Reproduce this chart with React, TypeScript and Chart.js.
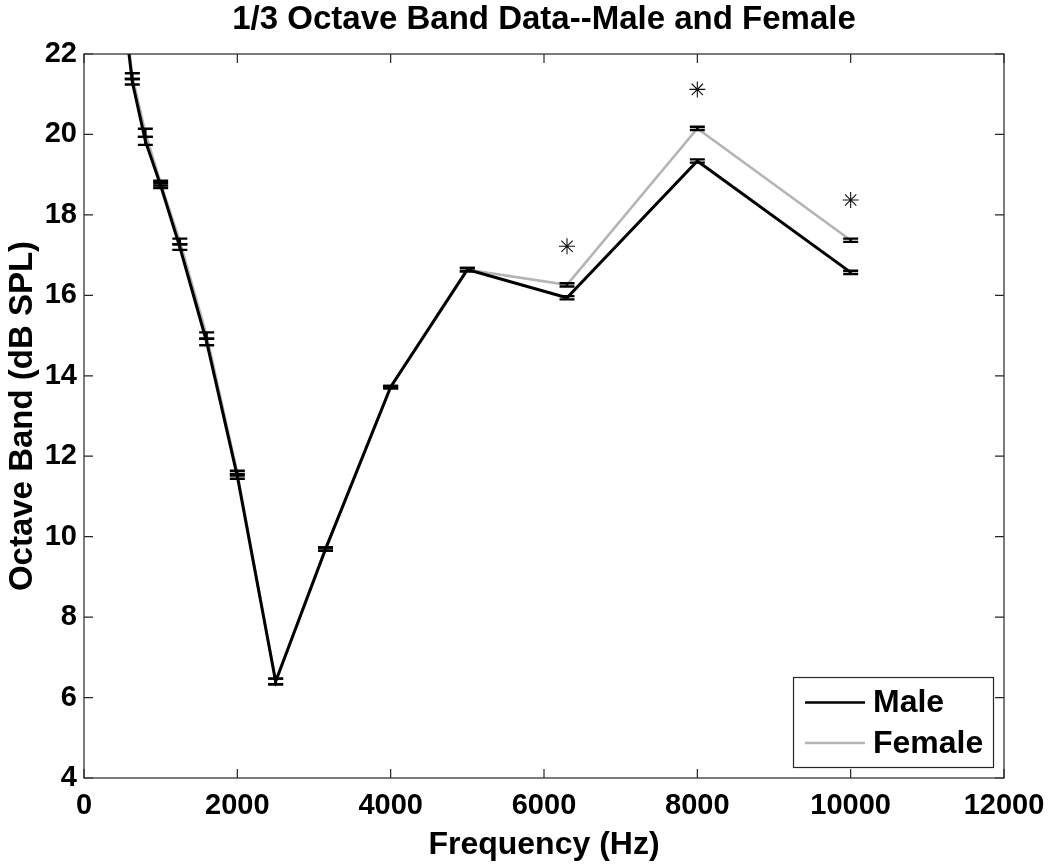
import React, { useEffect, useRef } from 'react';
import { Chart, registerables } from 'chart.js';

Chart.register(...registerables);

// ---- data ----
const frequencies = [500, 630, 800, 1000, 1250, 1600, 2000, 2500, 3150, 4000, 5000, 6300, 8000, 10000];
const maleLevels = [23.4, 21.31, 19.84, 18.73, 17.2, 14.84, 11.5, 6.4, 9.69, 13.72, 16.64, 15.94, 19.34, 16.57];
const femaleLevels = [23.5, 21.45, 20.04, 18.79, 17.34, 15.0, 11.58, 6.4, 9.69, 13.72, 16.64, 16.26, 20.15, 17.37];
const maleErrors = [0.07, 0.07, 0.1, 0.06, 0.07, 0.08, 0.06, 0.07, 0.04, 0.03, 0.04, 0.04, 0.04, 0.04];
const femaleErrors = [0.07, 0.07, 0.1, 0.06, 0.07, 0.08, 0.06, 0.07, 0.04, 0.03, 0.04, 0.04, 0.04, 0.04];
const significantFreqs = [6300, 8000, 10000];
const significantMarks = [17.22, 21.12, 18.37];
const seriesLabels = ['Male', 'Female'];
const xTickValues = [0, 2000, 4000, 6000, 8000, 10000, 12000];
const yTickValues = [4, 6, 8, 10, 12, 14, 16, 18, 20, 22];

const FONT = '"Liberation Sans", Arial, Helvetica, sans-serif';
const MALE_COLOR = '#000000';
const FEMALE_COLOR = '#b4b4b4';
const FRAME_COLOR = '#262626';

const errorBarPlugin = {
  id: 'errorBars',
  afterDatasetsDraw(chart: any) {
    const { ctx, chartArea, scales } = chart;
    const xs = scales.x;
    const ys = scales.y;
    ctx.save();
    ctx.beginPath();
    ctx.rect(chartArea.left, chartArea.top, chartArea.right - chartArea.left, chartArea.bottom - chartArea.top);
    ctx.clip();
    ctx.strokeStyle = '#000';
    ctx.lineWidth = 2.4;
    chart.data.datasets.forEach((ds: any) => {
      const errs = ds.errors;
      if (!errs) return;
      ds.data.forEach((p: any, j: number) => {
        const px = xs.getPixelForValue(p.x);
        const lo = ys.getPixelForValue(p.y - errs[j]);
        const hi = ys.getPixelForValue(p.y + errs[j]);
        ctx.beginPath();
        ctx.moveTo(px, lo);
        ctx.lineTo(px, hi);
        ctx.moveTo(px - 7.5, lo);
        ctx.lineTo(px + 7.5, lo);
        ctx.moveTo(px - 7.5, hi);
        ctx.lineTo(px + 7.5, hi);
        ctx.stroke();
      });
    });
    ctx.restore();
  },
};

const framePlugin = {
  id: 'frameAndLegend',
  afterDraw(chart: any) {
    const { ctx, chartArea, scales } = chart;
    const xs = scales.x;
    const ys = scales.y;
    const L = chartArea.left, R = chartArea.right, T = chartArea.top, B = chartArea.bottom;
    ctx.save();
    ctx.strokeStyle = FRAME_COLOR;
    ctx.lineWidth = 1.2;
    ctx.strokeRect(L, T, R - L, B - T);
    const tl = 9;
    ctx.beginPath();
    xTickValues.forEach((v) => {
      const px = xs.getPixelForValue(v);
      ctx.moveTo(px, B);
      ctx.lineTo(px, B - tl);
      ctx.moveTo(px, T);
      ctx.lineTo(px, T + tl);
    });
    yTickValues.forEach((v) => {
      const py = ys.getPixelForValue(v);
      ctx.moveTo(L, py);
      ctx.lineTo(L + tl, py);
      ctx.moveTo(R, py);
      ctx.lineTo(R - tl, py);
    });
    ctx.stroke();

    // legend
    const bx = 793.5, by = 677.5, bw = 200, bh = 90;
    ctx.fillStyle = '#ffffff';
    ctx.fillRect(bx, by, bw, bh);
    ctx.strokeStyle = FRAME_COLOR;
    ctx.lineWidth = 1.2;
    ctx.strokeRect(bx, by, bw, bh);
    const rows = [
      { label: seriesLabels[0], color: MALE_COLOR, y: 702.5, w: 2.5 },
      { label: seriesLabels[1], color: FEMALE_COLOR, y: 743, w: 2.5 },
    ];
    rows.forEach((r) => {
      ctx.beginPath();
      ctx.strokeStyle = r.color;
      ctx.lineWidth = r.w;
      ctx.moveTo(805, r.y);
      ctx.lineTo(865, r.y);
      ctx.stroke();
      ctx.fillStyle = '#000';
      ctx.font = 'bold 32px ' + FONT;
      ctx.textAlign = 'left';
      ctx.textBaseline = 'middle';
      ctx.fillText(r.label, 873, r.y + 1);
    });
    ctx.restore();
  },
};

export default function App() {
  const canvasRef = useRef<HTMLCanvasElement | null>(null);

  useEffect(() => {
    document.body.style.margin = '0';
    const canvas = canvasRef.current;
    if (!canvas) return;

    const malePts = frequencies.map((f, i) => ({ x: f, y: maleLevels[i] }));
    const femalePts = frequencies.map((f, i) => ({ x: f, y: femaleLevels[i] }));
    const starPts = significantFreqs.map((f, i) => ({ x: f, y: significantMarks[i] }));

    const chart = new Chart(canvas, {
      type: 'line',
      data: {
        datasets: [
          {
            label: seriesLabels[0],
            data: malePts,
            errors: maleErrors,
            borderColor: MALE_COLOR,
            borderWidth: 3,
            pointRadius: 0,
            tension: 0,
            fill: false,
            clip: 0,
          } as any,
          {
            label: seriesLabels[1],
            data: femalePts,
            errors: femaleErrors,
            borderColor: FEMALE_COLOR,
            borderWidth: 2.6,
            pointRadius: 0,
            tension: 0,
            fill: false,
            clip: 0,
          } as any,
          {
            label: 'significant',
            data: starPts,
            showLine: false,
            pointStyle: 'star',
            pointRadius: 8,
            pointBorderColor: '#111',
            pointBackgroundColor: '#111',
            pointBorderWidth: 1.1,
            borderColor: '#111',
          } as any,
        ],
      },
      options: {
        animation: false,
        responsive: false,
        devicePixelRatio: 1,
        layout: { padding: { left: 0, right: 46, top: 0, bottom: 0 } },
        plugins: {
          legend: { display: false },
          tooltip: { enabled: false },
          title: {
            display: true,
            fullSize: false,
            text: '1/3 Octave Band Data--Male and Female',
            color: '#000',
            font: { family: FONT, size: 33, weight: 'bold', lineHeight: 1 },
            padding: { top: 3, bottom: 18 },
          },
        },
        scales: {
          x: {
            type: 'linear',
            min: 0,
            max: 12000,
            afterFit: (s: any) => {
              s.height = 89;
              s.paddingLeft = 0;
              s.paddingRight = 0;
            },
            afterBuildTicks: (s: any) => {
              s.ticks = xTickValues.map((v) => ({ value: v }));
            },
            ticks: {
              color: '#000',
              font: { family: FONT, size: 29, weight: 'bold' },
              padding: 11,
              maxRotation: 0,
              autoSkip: false,
              callback: (v: any) => String(v),
            },
            grid: { display: false, drawTicks: false },
            border: { display: false },
            title: {
              display: true,
              text: 'Frequency (Hz)',
              color: '#000',
              font: { family: FONT, size: 32, weight: 'bold', lineHeight: 1 },
              padding: { top: 0, bottom: 6 },
            },
          },
          y: {
            type: 'linear',
            min: 4,
            max: 22,
            afterFit: (s: any) => {
              s.width = 84;
              s.paddingTop = 0;
              s.paddingBottom = 0;
            },
            afterBuildTicks: (s: any) => {
              s.ticks = yTickValues.map((v) => ({ value: v }));
            },
            ticks: {
              color: '#000',
              font: { family: FONT, size: 29, weight: 'bold' },
              padding: 7,
              autoSkip: false,
              callback: (v: any) => String(v),
            },
            grid: { display: false, drawTicks: false },
            border: { display: false },
            title: {
              display: true,
              text: 'Octave Band (dB SPL)',
              color: '#000',
              font: { family: FONT, size: 33, weight: 'bold', lineHeight: 1 },
              padding: { top: 6, bottom: 0 },
            },
          },
        },
      },
      plugins: [errorBarPlugin, framePlugin],
    } as any);

    return () => {
      chart.destroy();
    };
  }, []);

  return <canvas ref={canvasRef} width={1050} height={867} style={{ display: 'block' }} />;
}
